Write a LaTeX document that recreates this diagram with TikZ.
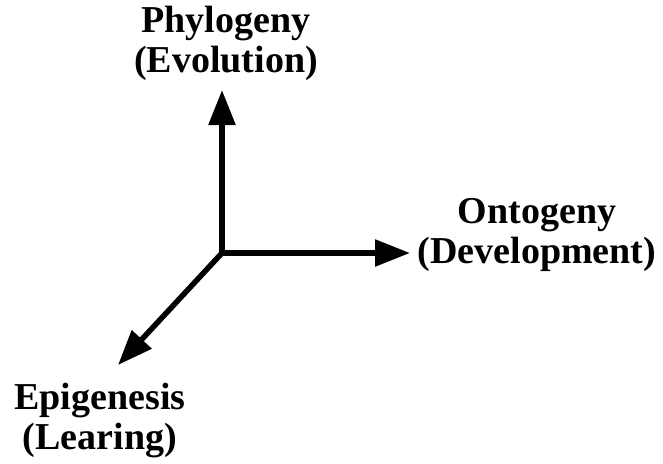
\documentclass[tikz,border=0pt]{standalone}
\usepackage{fontspec}
\setmainfont{Liberation Serif}
\usetikzlibrary{arrows.meta}
\begin{document}
\begin{tikzpicture}[x=1pt,y=-1pt,
  lbl/.style={align=center,font=\fontsize{38}{40}\selectfont\bfseries,inner sep=0pt},
  axis/.style={line width=5.5pt,-{Triangle[length=35pt,width=26pt]}}]
\useasboundingbox (0,0) rectangle (663,463);
\coordinate (O) at (222,253);
\coordinate (up) at (222,90);
\coordinate (right) at (410,253);
\coordinate (diag) at (118,365);
\node[lbl] (phy) at (226,43) {Phylogeny\\(Evolution)};
\node[lbl] (ont) at (537,235) {Ontogeny\\(Development)};
\node[lbl] (epi) at (100,421) {Epigenesis\\(Learing)};
\draw[axis] (O) -- (up);
\draw[axis] (O) -- (right);
\draw[axis] (O) -- (diag);
\end{tikzpicture}
\end{document}
